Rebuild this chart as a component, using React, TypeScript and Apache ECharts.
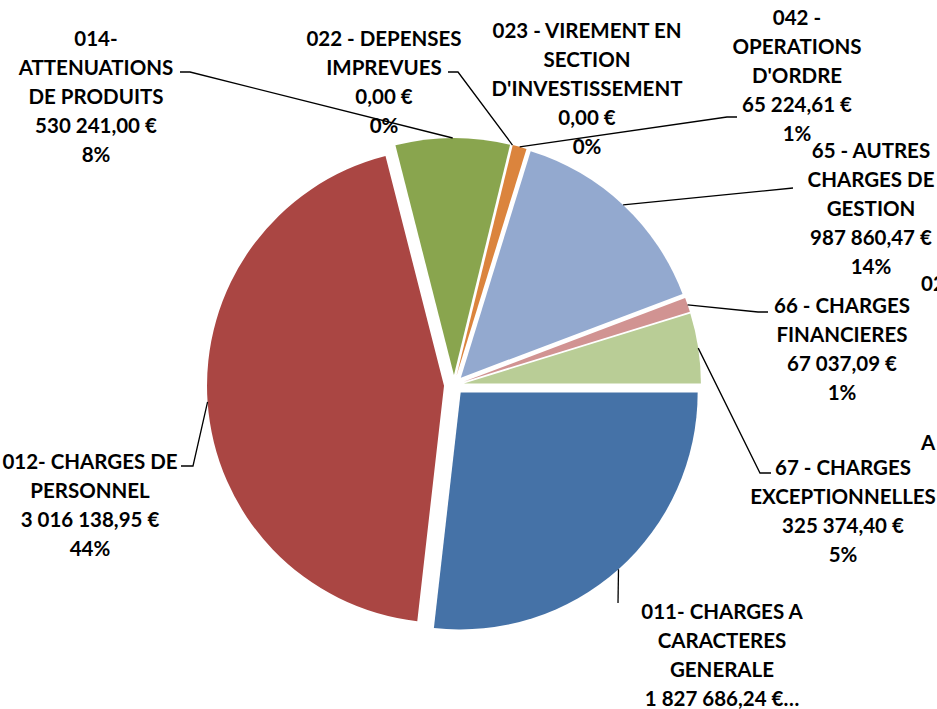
import React, { useEffect, useRef } from "react";
import * as echarts from "echarts";

// ---- data ----
const categories = [
  "011- CHARGES A CARACTERES GENERALE",
  "012- CHARGES DE PERSONNEL",
  "014- ATTENUATIONS DE PRODUITS",
  "022 - DEPENSES IMPREVUES",
  "023 - VIREMENT EN SECTION D'INVESTISSEMENT",
  "042 - OPERATIONS D'ORDRE",
  "65 - AUTRES CHARGES DE GESTION",
  "66 - CHARGES FINANCIERES",
  "67 - CHARGES EXCEPTIONNELLES",
];
const labelNames = [
  "011- CHARGES A\nCARACTERES\nGENERALE",
  "012- CHARGES DE\nPERSONNEL",
  "014-\nATTENUATIONS\nDE PRODUITS",
  "022 - DEPENSES\nIMPREVUES",
  "023 - VIREMENT EN\nSECTION\nD'INVESTISSEMENT",
  "042 -\nOPERATIONS\nD'ORDRE",
  "65 - AUTRES\nCHARGES DE\nGESTION",
  "66 - CHARGES\nFINANCIERES",
  "67 - CHARGES\nEXCEPTIONNELLES",
];
const values = [1827686.24, 3016138.95, 530241.0, 0, 0, 65224.61, 987860.47, 67037.09, 325374.4];
const colors = ["#4572A7", "#AA4643", "#89A54E", "#71588F", "#4198AF", "#DB843D", "#93A9CF", "#D19392", "#B9CD96"];
const sideTexts = ["02", "A"];

// ---- layout (positions/styles) ----
const CX = 454;
const CY = 385;
const R = 237;
const OFFSET = 10;
const labelPos = [
  { x: 722, y: 654, line: [[618, 603]] },
  { x: 90, y: 504, line: [[193, 466], [181, 466]] },
  { x: 96, y: 96, line: [[190, 72], [180, 72]] },
  { x: 384, y: 81, line: [[458, 72], [448, 72]] },
  { x: 587, y: 88, line: [] },
  { x: 797, y: 75, line: [[727, 117], [737, 117]] },
  { x: 871, y: 208, line: [[793, 188]] },
  { x: 842, y: 348, line: [[758, 312], [768, 312]] },
  { x: 843, y: 510, line: [[760, 473], [771, 473]] },
];
const sidePos = [
  { x: 921, y: 283 },
  { x: 921, y: 442 },
];
const FONT = "Lato";
const FONT_SIZE = 20.5;

function formatEuro(v: number): string {
  const [i, d] = v.toFixed(2).split(".");
  const int = i.replace(/\B(?=(\d{3})+(?!\d))/g, " ");
  return `${int},${d} €`;
}

export default function App() {
  const ref = useRef<HTMLDivElement>(null);
  useEffect(() => {
    document.body.style.margin = "0";
    const chart = echarts.init(ref.current!, null, { renderer: "svg" });
    const total = values.reduce((a, b) => a + b, 0);
    const midAngles: number[] = [];
    let acc = 0;
    values.forEach((v) => {
      midAngles.push(((acc + v / 2) / total) * Math.PI * 2);
      acc += v;
    });

    const data1 = values.map((v, i) => ({
      name: categories[i],
      value: v,
      selected: true,
      itemStyle: { color: colors[i] },
      select: { itemStyle: { color: colors[i], borderWidth: 0 } },
    }));
    const data2 = values.map((v, i) => ({
      name: categories[i],
      value: v,
      labelLine: { show: labelPos[i].line.length > 0 },
    }));

    chart.setOption({
      animation: false,
      series: [
        {
          type: "pie",
          center: [CX, CY],
          radius: [0, R],
          startAngle: 0,
          clockwise: true,
          selectedMode: "multiple",
          selectedOffset: OFFSET,
          silent: true,
          label: { show: false },
          labelLine: { show: false },
          emphasis: { disabled: true },
          itemStyle: { borderWidth: 0 },
          data: data1,
          z: 2,
        },
        {
          type: "pie",
          center: [CX, CY],
          radius: [0, R + OFFSET],
          startAngle: 0,
          clockwise: true,
          silent: true,
          avoidLabelOverlap: false,
          percentPrecision: 0,
          itemStyle: { color: "rgba(0,0,0,0)", borderWidth: 0 },
          emphasis: { disabled: true },
          label: {
            show: true,
            position: "outside",
            color: "#000",
            fontFamily: FONT,
            fontWeight: "bold",
            fontSize: FONT_SIZE,
            lineHeight: 29,
            align: "center",
            formatter: (p: any) => {
              const i = p.dataIndex;
              if (i === 0) return `${labelNames[i]}\n${formatEuro(values[i])}…`;
              return `${labelNames[i]}\n${formatEuro(values[i])}\n${p.percent}%`;
            },
          },
          labelLine: { show: true, lineStyle: { color: "#000", width: 1.3 } },
          labelLayout: (p: any) => {
            const i = p.dataIndex;
            const pos = labelPos[i];
            const a = midAngles[i];
            const anchor = [CX + (R + OFFSET) * Math.cos(a), CY + (R + OFFSET) * Math.sin(a)];
            const out: any = { x: pos.x, y: pos.y, align: "center", verticalAlign: "middle" };
            if (pos.line.length) out.labelLinePoints = [anchor, ...pos.line];
            return out;
          },
          data: data2,
          z: 3,
        },
      ],
      graphic: sideTexts.map((t, i) => ({
        type: "text",
        x: sidePos[i].x,
        y: sidePos[i].y,
        style: {
          text: t,
          fill: "#000",
          font: `bold ${FONT_SIZE}px ${FONT}`,
          textVerticalAlign: "middle",
        },
      })),
    });
    return () => chart.dispose();
  }, []);
  return <div ref={ref} style={{ width: 937, height: 709 }} />;
}
